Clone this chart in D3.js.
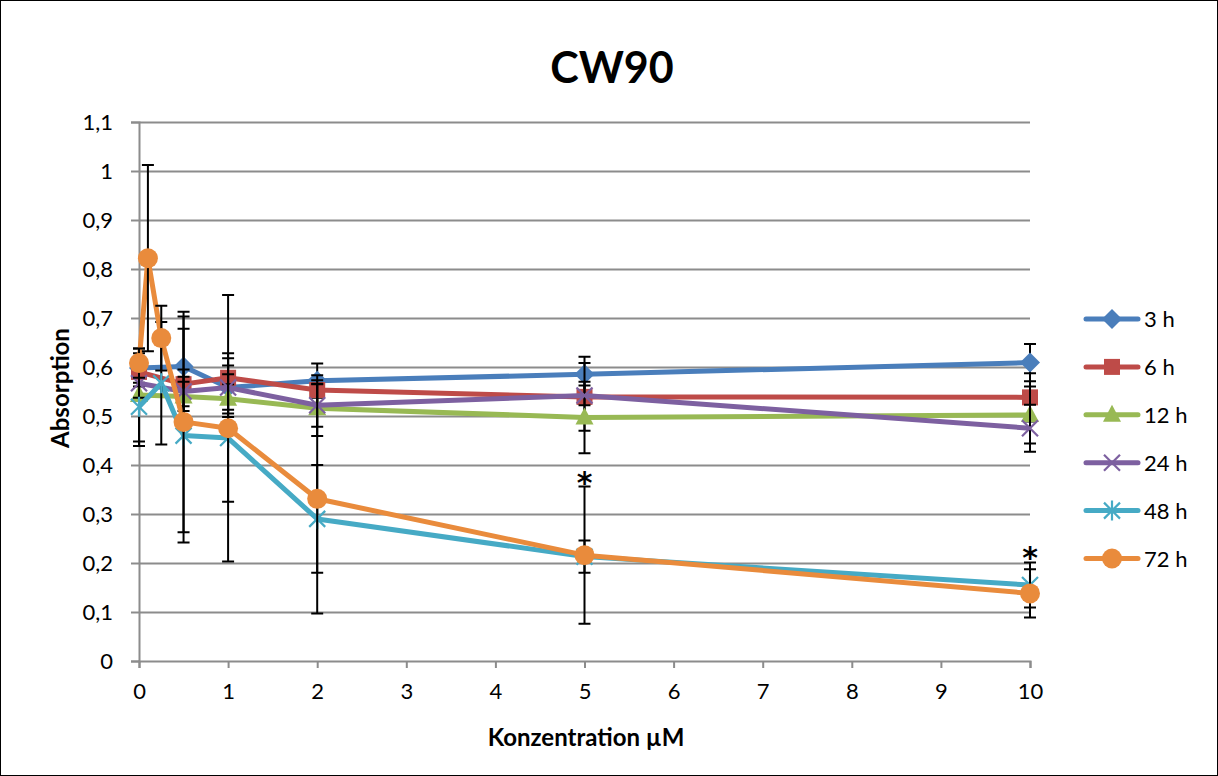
<!DOCTYPE html>
<html lang="en">
<head>
<meta charset="utf-8">
<title>CW90</title>
<script src="https://d3js.org/d3.v7.min.js"></script>
<style>
  body { margin: 0; background: #fff; }
  text { font-family: Lato, "Open Sans", sans-serif; fill: #000; }
</style>
</head>
<body>
<script>
// concentrations (µM) shared by all series, null = no measurement
var conc = [0, 0.1, 0.25, 0.5, 1, 2, 5, 10];

var labels = ["3 h", "6 h", "12 h", "24 h", "48 h", "72 h"];
var colors = ["#4A7EBB", "#BE4B48", "#98B954", "#7D60A0", "#46AAC5", "#E98B3C"];
var shapes = ["diamond", "square", "triangle", "x", "star", "circle"];

var h3  = [0.598, null, null, 0.601, 0.558, 0.572, 0.585, 0.609];
var h6  = [0.590, null, null, 0.565, 0.578, 0.553, 0.539, 0.538];
var h12 = [0.543, null, null, 0.540, 0.535, 0.516, 0.497, 0.502];
var h24 = [0.567, null, null, 0.550, 0.558, 0.522, 0.542, 0.475];
var h48 = [0.519, null, 0.567, 0.460, 0.455, 0.290, 0.213, 0.155];
var h72 = [0.608, 0.822, 0.659, 0.488, 0.475, 0.331, 0.216, 0.138];

// standard deviations
var e3  = [0.030, null, null, 0.102, 0.045, 0.035, 0.036, 0.038];
var e6  = [0.030, null, null, 0.030, 0.050, 0.030, 0.069, 0.049];
var e12 = [0.095, null, null, 0.030, 0.030, 0.057, 0.073, 0.058];
var e24 = [0.030, null, null, 0.030, 0.060, 0.044, 0.020, 0.048];
var e48 = [0.080, null, 0.125, 0.218, 0.130, 0.110, 0.033, 0.046];
var e72 = [0.030, 0.190, 0.066, 0.225, 0.272, 0.234, 0.140, 0.049];

// significance marks
var starConc = [5, 10];
var starY = [0.375, 0.222];

var yTicks = d3.range(0, 1.11, 0.1);
var xTicks = d3.range(0, 11, 1);

var values = [h3, h6, h12, h24, h48, h72];
var errors = [e3, e6, e12, e24, e48, e72];

var W = 1218, H = 776;
var svg = d3.select("body").append("svg").attr("width", W).attr("height", H);

svg.append("rect").attr("x", 0.5).attr("y", 0.5).attr("width", W - 1).attr("height", H - 1)
  .attr("fill", "#fff").attr("stroke", "#000").attr("stroke-width", 1);

var x = d3.scaleLinear().domain([0, 10]).range([139, 1030]);
var y = d3.scaleLinear().domain([0, 1.1]).range([661, 122]);

// gridlines
svg.append("g").selectAll("line").data(yTicks.slice(1)).enter().append("line")
  .attr("x1", x(0)).attr("x2", x(10))
  .attr("y1", function(d) { return Math.round(y(d)) + 0.5; })
  .attr("y2", function(d) { return Math.round(y(d)) + 0.5; })
  .attr("stroke", "#8c8c8c").attr("stroke-width", 2);

// y axis
var yAxis = svg.append("g").attr("transform", "translate(" + x(0) + ",0)")
  .call(d3.axisLeft(y).tickValues(yTicks).tickSize(8).tickPadding(18)
    .tickFormat(function(d) { return d3.format(".1~f")(d).replace(".", ","); }));
yAxis.selectAll("text").style("font-size", "22px");

// x axis
var xAxis = svg.append("g").attr("transform", "translate(0," + y(0) + ")")
  .call(d3.axisBottom(x).tickValues(xTicks).tickSize(7).tickPadding(15)
    .tickFormat(d3.format("d")));
xAxis.selectAll("text").style("font-size", "22px");

svg.selectAll(".domain, .tick line").attr("stroke", "#8c8c8c").attr("stroke-width", 2);

// titles
svg.append("text").attr("x", 612).attr("y", 83).attr("text-anchor", "middle")
  .style("font-size", "43px").style("font-weight", "bold").text("CW90");
svg.append("text").attr("x", 586).attr("y", 746).attr("text-anchor", "middle")
  .style("font-size", "24px").style("font-weight", "bold").text("Konzentration µM");
svg.append("text").attr("transform", "translate(69,388) rotate(-90)").attr("text-anchor", "middle")
  .style("font-size", "24px").style("font-weight", "bold").text("Absorption");

function drawMarker(g, shape, color, cx, cy) {
  if (shape === "diamond") {
    g.append("path").attr("d", "M0,-10L10,0L0,10L-10,0Z")
      .attr("transform", "translate(" + cx + "," + cy + ")").attr("fill", color);
  } else if (shape === "square") {
    g.append("rect").attr("x", cx - 8).attr("y", cy - 8).attr("width", 16).attr("height", 16)
      .attr("fill", color);
  } else if (shape === "triangle") {
    g.append("path").attr("d", "M0,-10L9,7L-9,7Z")
      .attr("transform", "translate(" + cx + "," + cy + ")").attr("fill", color);
  } else if (shape === "x") {
    g.append("path").attr("d", "M-8,-8L8,8M-8,8L8,-8")
      .attr("transform", "translate(" + cx + "," + cy + ")")
      .attr("stroke", color).attr("stroke-width", 2.2).attr("fill", "none");
  } else if (shape === "star") {
    g.append("path").attr("d", "M-8,-8L8,8M-8,8L8,-8M0,-10L0,10")
      .attr("transform", "translate(" + cx + "," + cy + ")")
      .attr("stroke", color).attr("stroke-width", 2.2).attr("fill", "none");
  } else {
    g.append("circle").attr("cx", cx).attr("cy", cy).attr("r", 10).attr("fill", color);
  }
}

var line = d3.line().x(function(d) { return x(d.c); }).y(function(d) { return y(d.v); });

values.forEach(function(vals, i) {
  var pts = [];
  vals.forEach(function(v, j) {
    if (v !== null) pts.push({ c: conc[j], v: v, e: errors[i][j] });
  });
  var g = svg.append("g");
  g.append("path").datum(pts).attr("d", line).attr("fill", "none")
    .attr("stroke", colors[i]).attr("stroke-width", 5).attr("stroke-linejoin", "round");

  // error bars
  pts.forEach(function(p) {
    var px = x(p.c), top = y(p.v + p.e), bot = y(p.v - p.e);
    g.append("path")
      .attr("d", "M" + px + "," + top + "V" + bot + "M" + (px - 6) + "," + top + "H" + (px + 6) +
        "M" + (px - 6) + "," + bot + "H" + (px + 6))
      .attr("stroke", "#000").attr("stroke-width", 2).attr("fill", "none");
  });

  pts.forEach(function(p) { drawMarker(g, shapes[i], colors[i], x(p.c), y(p.v)); });
});

// significance asterisks
starConc.forEach(function(c, i) {
  svg.append("text").attr("x", x(c)).attr("y", y(starY[i]) + 16).attr("text-anchor", "middle")
    .style("font-size", "30px").style("font-weight", "bold")
    .style("font-family", "'DejaVu Sans', sans-serif").text("*");
});

// legend
var legend = svg.append("g");
labels.forEach(function(l, i) {
  var ly = 319 + i * 47.9;
  legend.append("line").attr("x1", 1086).attr("x2", 1138).attr("y1", ly).attr("y2", ly)
    .attr("stroke", colors[i]).attr("stroke-width", 5).attr("stroke-linecap", "round");
  drawMarker(legend, shapes[i], colors[i], 1112, ly);
  legend.append("text").attr("x", 1144).attr("y", ly + 8).style("font-size", "22px").text(l);
});
</script>
</body>
</html>
